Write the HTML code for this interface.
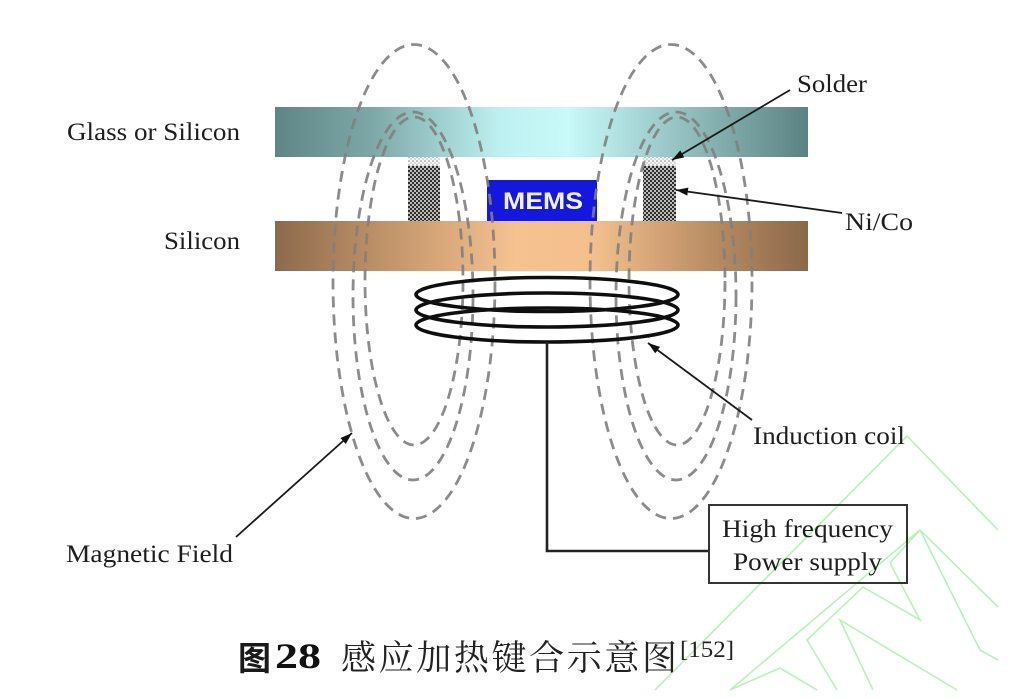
<!DOCTYPE html>
<html>
<head>
<meta charset="utf-8">
<style>
  html,body{margin:0;padding:0;background:#fff;}
  svg{display:block;}
  .lbl{font-family:"Liberation Serif",serif;font-size:25px;fill:#1e1e1e;}
</style>
</head>
<body>
<svg width="1024" height="698" viewBox="0 0 1024 698" xmlns="http://www.w3.org/2000/svg">
  <defs>
    <linearGradient id="glass" x1="0" y1="0" x2="1" y2="0">
      <stop offset="0" stop-color="#5f8686"/>
      <stop offset="0.18" stop-color="#7da7a7"/>
      <stop offset="0.42" stop-color="#bdf0f0"/>
      <stop offset="0.55" stop-color="#c8fafa"/>
      <stop offset="0.75" stop-color="#97c4c4"/>
      <stop offset="1" stop-color="#5b8282"/>
    </linearGradient>
    <linearGradient id="sil" x1="0" y1="0" x2="1" y2="0">
      <stop offset="0" stop-color="#8c6a4c"/>
      <stop offset="0.2" stop-color="#bf9268"/>
      <stop offset="0.45" stop-color="#f5c290"/>
      <stop offset="0.6" stop-color="#f3bf8d"/>
      <stop offset="0.82" stop-color="#b88c63"/>
      <stop offset="1" stop-color="#8a684a"/>
    </linearGradient>
    <pattern id="chk" width="4" height="4" patternUnits="userSpaceOnUse">
      <rect width="4" height="4" fill="#2e2e2e"/>
      <circle cx="1" cy="1" r="1" fill="#e8e8e8"/>
      <circle cx="3" cy="3" r="1" fill="#e8e8e8"/>
    </pattern>
    <pattern id="sold" width="4" height="4" patternUnits="userSpaceOnUse">
      <rect width="4" height="4" fill="#f4f4f4"/>
      <circle cx="1" cy="1" r="0.8" fill="#8a8a8a"/>
      <circle cx="3" cy="3" r="0.8" fill="#bbbbbb"/>
    </pattern>
    <marker id="ah" viewBox="0 0 12 8" refX="12" refY="4" markerWidth="12" markerHeight="8" markerUnits="userSpaceOnUse" orient="auto">
      <path d="M0,0 L12,4 L0,8 z" fill="#111"/>
    </marker>
  </defs>

  <!-- watermark green lines -->
  <g fill="none" stroke="#b4f4b4" stroke-width="1.6">
    <polyline points="655,690 907,436 998,530"/>
    <polyline points="730,690 920,530 998,607"/>
    <polyline points="920,530 980,650 998,660"/>
    <polyline points="890,563 920,530"/>
    <polyline points="890,563 920,620 863,587 807,640 837,690"/>
    <polyline points="873,690 840,620 957,690"/>
    <polyline points="730,690 780,668 817,690"/>
  </g>

  <!-- bars -->
  <rect x="275" y="107" width="533" height="50" fill="url(#glass)"/>
  <rect x="275" y="221" width="533" height="50" fill="url(#sil)"/>

  <!-- columns -->
  <rect x="408" y="166" width="32" height="55" fill="url(#chk)"/>
  <rect x="408" y="157" width="32" height="9" fill="url(#sold)"/>
  <rect x="643" y="166" width="33" height="55" fill="url(#chk)"/>
  <rect x="643" y="157" width="33" height="9" fill="url(#sold)"/>

  <!-- MEMS -->
  <rect x="487" y="180" width="110" height="41" fill="#1418de"/>
  <text x="503" y="209" font-family="'Liberation Sans',sans-serif" font-weight="bold" font-size="24" fill="#f4f4ff" textLength="80" lengthAdjust="spacingAndGlyphs">MEMS</text>

  <!-- magnetic field dashed loops -->
  <g fill="none" stroke="#808080" stroke-width="2.8" stroke-dasharray="11 7" opacity="0.9">
    <ellipse cx="414" cy="281.5" rx="81" ry="237"/>
    <ellipse cx="413" cy="296" rx="60" ry="184"/>
    <ellipse cx="414" cy="281" rx="49" ry="164"/>
    <ellipse cx="671" cy="281.5" rx="81" ry="237"/>
    <ellipse cx="676" cy="296" rx="60" ry="184"/>
    <ellipse cx="677" cy="281" rx="48" ry="164"/>
  </g>

  <!-- coil -->
  <g fill="none" stroke="#0e0e0e" stroke-width="3.6">
    <ellipse cx="547" cy="294.5" rx="131" ry="17"/>
    <ellipse cx="547" cy="310" rx="131" ry="17"/>
    <ellipse cx="547" cy="325" rx="131" ry="17"/>
  </g>

  <!-- supply wire & box -->
  <polyline points="547,342 547,551 709,551" fill="none" stroke="#222" stroke-width="2.6"/>
  <rect x="709" y="505" width="198" height="78" fill="none" stroke="#333" stroke-width="2"/>

  <!-- arrows -->
  <g stroke="#1a1a1a" stroke-width="1.8" fill="none">
    <line x1="790" y1="90" x2="672" y2="160" marker-end="url(#ah)"/>
    <line x1="842" y1="213" x2="676" y2="190" marker-end="url(#ah)"/>
    <line x1="752" y1="420" x2="648" y2="343" marker-end="url(#ah)"/>
    <line x1="236" y1="537" x2="352" y2="433" marker-end="url(#ah)"/>
  </g>

  <!-- labels -->
  <text class="lbl" x="67" y="140" textLength="173" lengthAdjust="spacingAndGlyphs">Glass or Silicon</text>
  <text class="lbl" x="164" y="249" textLength="76" lengthAdjust="spacingAndGlyphs">Silicon</text>
  <text class="lbl" x="797" y="92" textLength="70" lengthAdjust="spacingAndGlyphs">Solder</text>
  <text class="lbl" x="845" y="230" textLength="68" lengthAdjust="spacingAndGlyphs">Ni/Co</text>
  <text class="lbl" x="753" y="444" textLength="152" lengthAdjust="spacingAndGlyphs">Induction coil</text>
  <text class="lbl" x="66" y="562" textLength="167" lengthAdjust="spacingAndGlyphs">Magnetic Field</text>
  <text class="lbl" x="722" y="537" textLength="171" lengthAdjust="spacingAndGlyphs">High frequency</text>
  <text class="lbl" x="733" y="570" textLength="149" lengthAdjust="spacingAndGlyphs">Power supply</text>

  <!-- caption -->
  <text x="238" y="670" font-family="'Liberation Sans','Noto Sans CJK SC',sans-serif" font-weight="bold" font-size="33" fill="#1a1a1a">图</text>
  <text x="275" y="668" font-family="'Liberation Serif',serif" font-weight="bold" font-size="36" fill="#111" textLength="46" lengthAdjust="spacingAndGlyphs">28</text>
  <text x="341" y="670" font-family="'Liberation Serif','Noto Serif CJK SC',serif" font-size="35" fill="#222" textLength="336" lengthAdjust="spacing">感应加热键合示意图</text>
  <text x="680" y="657" font-family="'Liberation Serif',serif" font-size="23" fill="#222" textLength="54" lengthAdjust="spacingAndGlyphs">[152]</text>
</svg>
</body>
</html>
